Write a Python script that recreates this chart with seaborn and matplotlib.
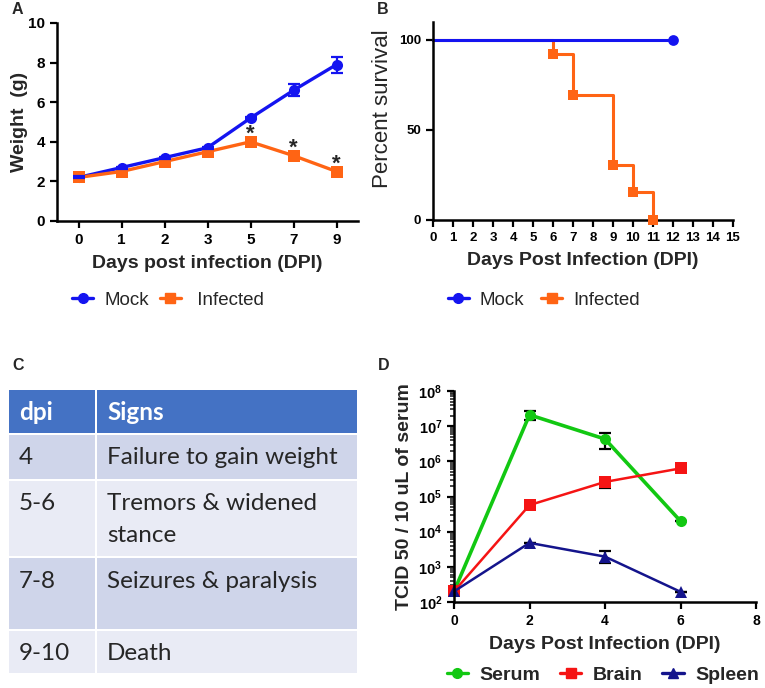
import numpy as np
import pandas as pd
import matplotlib
matplotlib.use("Agg")
import matplotlib.pyplot as plt
import seaborn as sns
from matplotlib.lines import Line2D
from matplotlib.patches import Rectangle
from matplotlib.ticker import LogLocator, LogFormatterMathtext, NullFormatter

# Panel A - weight
dpi_a = ["0", "1", "2", "3", "5", "7", "9"]
mock_w = [2.2, 2.7, 3.2, 3.7, 5.2, 6.6, 7.9]
mock_err = [0.05, 0.05, 0.05, 0.05, 0.05, 0.3, 0.4]
inf_w = [2.2, 2.5, 3.0, 3.5, 4.0, 3.3, 2.5]
sig_days = ["5", "7", "9"]

# Panel B - survival
mock_t = [0, 12]
mock_s = [100, 100]
inf_t = [0, 6, 7, 9, 10, 11]
inf_s = [100, 92.3, 69.2, 30.8, 15.4, 0]

# Panel C - clinical signs table
tab_dpi = ["4", "5-6", "7-8", "9-10"]
tab_signs = ["Failure to gain weight", "Tremors & widened\nstance", "Seizures & paralysis", "Death"]

# Panel D - viral titres
dpi_d = [0, 2, 4, 6]
serum = [200, 2.1e7, 4.3e6, 2.0e4]
serum_lo = [0, 0.6e7, 2.0e6, 0]
serum_hi = [0, 0.6e7, 2.2e6, 0]
brain = [200, 5.7e4, 2.6e5, 6.3e5]
brain_lo = [0, 0, 0.8e5, 0]
brain_hi = [0, 0, 0.7e5, 0]
spleen = [200, 4.8e3, 1.95e3, 195]
spleen_lo = [0, 0, 0.65e3, 0]
spleen_hi = [0, 0, 0.85e3, 0]

blue = "#1414F0"
orange = "#FF6414"
green = "#12C812"
red = "#F51414"
navy = "#14148C"

sns.set_style("ticks")
plt.rcParams['font.family'] = ['Liberation Sans', 'DejaVu Sans']
plt.rcParams['mathtext.fontset'] = 'custom'
plt.rcParams['mathtext.bf'] = 'Liberation Sans:bold'
plt.rcParams['mathtext.rm'] = 'Liberation Sans:bold'
plt.rcParams['mathtext.default'] = 'bf'

W, H = 765, 688
fig = plt.figure(figsize=(W / 100, H / 100), dpi=100)


def px_axes(l, t, r, b):
    return fig.add_axes([l / W, 1 - b / H, (r - l) / W, (b - t) / H])


def style_axes(ax, tick_size):
    sns.despine(ax=ax)
    for s in ["left", "bottom"]:
        ax.spines[s].set_linewidth(1.8)
        ax.spines[s].set_color("black")
    ax.tick_params(width=1.6, length=5, labelsize=tick_size, colors="black")
    for lab in ax.get_xticklabels() + ax.get_yticklabels():
        lab.set_fontweight("bold")


# ---------- A ----------
axA = px_axes(57, 23, 358, 221)
xa = np.arange(len(dpi_a))
dfa = pd.DataFrame({"x": np.concatenate([xa, xa]),
                    "w": mock_w + inf_w,
                    "g": ["Mock"] * len(xa) + ["Infected"] * len(xa)})
sns.lineplot(data=dfa, x="x", y="w", hue="g", style="g", markers={"Mock": "o", "Infected": "s"},
             dashes=False, palette={"Mock": blue, "Infected": orange}, linewidth=2.4,
             markersize=8, markeredgewidth=0, legend=False, ax=axA, clip_on=False)
axA.errorbar(xa, mock_w, yerr=mock_err, fmt="none", ecolor=blue, elinewidth=1.6, capsize=4, capthick=1.6)
for d in sig_days:
    i = dpi_a.index(d)
    axA.text(xa[i], inf_w[i] + 0.08, "*", ha="center", va="baseline", fontsize=16, fontweight="bold")
axA.set_xlim(-0.5, 6.5)
axA.set_ylim(0, 10)
axA.set_xticks(xa)
axA.set_xticklabels(dpi_a)
axA.set_yticks(range(0, 11, 2))
axA.set_xlabel("Days post infection (DPI)", fontsize=14, fontweight="bold", labelpad=6)
axA.set_ylabel("Weight  (g)", fontsize=14, fontweight="bold")
axA.yaxis.set_label_coords(-0.095, 0.5)
style_axes(axA, 11)

# ---------- B ----------
axB = px_axes(433, 22, 733, 220)
sns.lineplot(x=inf_t, y=inf_s, color=orange, linewidth=2.2, ax=axB, drawstyle="steps-post", clip_on=False)
sns.lineplot(x=mock_t, y=mock_s, color=blue, linewidth=2.2, ax=axB, drawstyle="steps-post", clip_on=False)
sns.scatterplot(x=mock_t[1:], y=mock_s[1:], color=blue, marker="o", s=60, linewidth=0, ax=axB, clip_on=False, zorder=5)
sns.scatterplot(x=inf_t[1:], y=inf_s[1:], color=orange, marker="s", s=55, linewidth=0, ax=axB, clip_on=False, zorder=5)
axB.set_xlim(0, 15)
axB.set_ylim(0, 110)
axB.set_xticks(range(0, 16))
axB.set_yticks([0, 50, 100])
axB.set_xlabel("Days Post Infection (DPI)", fontsize=14, fontweight="bold", labelpad=6)
axB.set_ylabel("Percent survival", fontsize=16)
axB.yaxis.set_label_coords(-0.135, 0.56)
style_axes(axB, 9.5)

# ---------- C ----------
axC = fig.add_axes([0, 0, 1, 1], zorder=-1)
axC.set_xlim(0, W)
axC.set_ylim(H, 0)
axC.axis("off")
rows = [(390, 433), (435, 479), (481, 556), (558, 629), (631, 673)]
cols = [(9, 95), (97, 357)]
fills = ["#4472C4", "#CFD5EA", "#E9EBF5", "#CFD5EA", "#E9EBF5"]
for (t, b), fc in zip(rows, fills):
    for (l, r) in cols:
        axC.add_patch(Rectangle((l, t), r - l, b - t, facecolor=fc, edgecolor="none"))
axC.text(19, 412, "dpi", color="white", fontsize=17.5, fontweight="bold", family="Lato", va="center")
axC.text(107, 412, "Signs", color="white", fontsize=17.5, fontweight="bold", family="Lato", va="center")
for (t, b), d, s in zip(rows[1:], tab_dpi, tab_signs):
    axC.text(19, t + 23, d, fontsize=17.5, family="Lato", va="center")
    for k, line in enumerate(s.split("\n")):
        axC.text(107, t + 23 + 32 * k, line, fontsize=17.5, family="Lato", va="center")

# ---------- D ----------
axD = px_axes(454, 391, 756, 602)
for y, lo, hi, c, m, lw, ms in [(serum, serum_lo, serum_hi, green, "o", 2.6, 8),
                                (brain, brain_lo, brain_hi, red, "s", 1.8, 8),
                                (spleen, spleen_lo, spleen_hi, navy, "^", 1.8, 8)]:
    sns.lineplot(x=dpi_d, y=y, color=c, marker=m, markersize=ms, markeredgewidth=0,
                 linewidth=lw, ax=axD, clip_on=False)
    axD.errorbar(dpi_d, y, yerr=[lo, hi], fmt="none", ecolor="black", elinewidth=1.6, capsize=4, capthick=1.6, zorder=1)
axD.set_yscale("log")
axD.set_ylim(1e2, 1e8)
axD.set_xlim(0, 8)
axD.set_xticks([0, 2, 4, 6, 8])
axD.yaxis.set_major_locator(LogLocator(base=10, numticks=10))
axD.yaxis.set_major_formatter(LogFormatterMathtext())
axD.yaxis.set_minor_locator(LogLocator(base=10, subs=np.arange(2, 10), numticks=10))
axD.yaxis.set_minor_formatter(NullFormatter())
axD.set_xlabel("Days Post Infection (DPI)", fontsize=14, fontweight="bold", labelpad=6)
axD.set_ylabel("TCID 50 / 10 uL of serum", fontsize=14, fontweight="bold", labelpad=4)
style_axes(axD, 10)
axD.tick_params(axis="y", labelsize=10.5)
axD.tick_params(axis="y", which="minor", length=3, width=1.2)

# ---------- legends ----------
hA = [Line2D([], [], color=blue, marker="o", lw=2.4, ms=7),
      Line2D([], [], color=orange, marker="s", lw=2.4, ms=7)]
fig.legend(hA, ["Mock", " Infected"], loc="center", bbox_to_anchor=(168 / W, 1 - 300 / H),
           ncol=2, frameon=False, fontsize=13.5, handlelength=1.1, handletextpad=0.6, columnspacing=0.6)
fig.legend(hA, ["Mock", "Infected"], loc="center", bbox_to_anchor=(544 / W, 1 - 300 / H),
           ncol=2, frameon=False, fontsize=13.5, handlelength=1.1, handletextpad=0.6, columnspacing=0.9)
hD = [Line2D([], [], color=green, marker="o", lw=2.4, ms=7),
      Line2D([], [], color=red, marker="s", lw=2.4, ms=7),
      Line2D([], [], color=navy, marker="^", lw=2.4, ms=7)]
fig.legend(hD, ["Serum", "Brain", "Spleen"], loc="center left", bbox_to_anchor=(429 / W, 1 - 675 / H),
           ncol=3, frameon=False, prop={"size": 14, "weight": "bold"},
           handlelength=1.1, handletextpad=0.6, columnspacing=1.0)

# ---------- panel letters ----------
for x, y, t in [(12, 10, "A"), (377, 10, "B"), (12, 366, "C"), (378, 366, "D")]:
    fig.text(x / W, 1 - y / H, t, fontsize=11.5, fontweight="bold", va="center")

fig.savefig("out.png", dpi=100)
